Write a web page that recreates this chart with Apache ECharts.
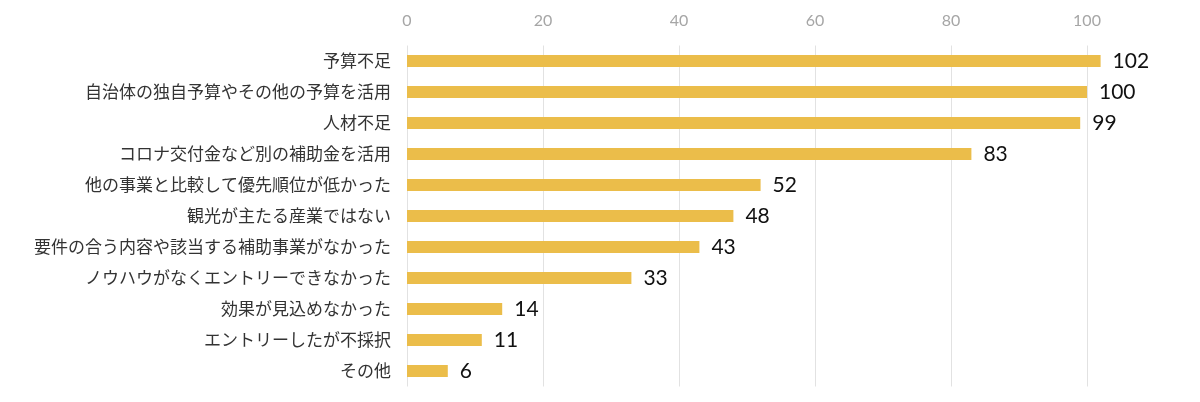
<!DOCTYPE html>
<html><head><meta charset="utf-8">
<script src="https://cdn.jsdelivr.net/npm/echarts@6/dist/echarts.min.js"></script>
<style>html,body{margin:0;padding:0;background:#fff}#c{width:1200px;height:402px}</style>
</head><body><div id="c"></div>
<script>
const categories = ["予算不足","自治体の独自予算やその他の予算を活用","人材不足","コロナ交付金など別の補助金を活用","他の事業と比較して優先順位が低かった","観光が主たる産業ではない","要件の合う内容や該当する補助事業がなかった","ノウハウがなくエントリーできなかった","効果が見込めなかった","エントリーしたが不採択","その他"];
const values = [102,100,99,83,52,48,43,33,14,11,6];
const chart = echarts.init(document.getElementById('c'));
chart.setOption({
  animation:false,
  grid:{left:407,right:99.4,top:45.5,bottom:15.5,containLabel:false},
  xAxis:{type:'value',position:'top',min:0,max:102,interval:20,
    axisLine:{show:false},axisTick:{show:false},
    axisLabel:{color:'#a6a6a6',fontSize:16,fontFamily:'Lato, "Noto Sans", sans-serif',margin:17,showMaxLabel:false},
    splitLine:{showMaxLine:false,lineStyle:{color:'#e2e2e2',width:1}}},
  yAxis:{type:'category',inverse:true,data:categories,
    axisLine:{show:false},axisTick:{show:false},
    axisLabel:{color:'#333',fontSize:17,margin:16,fontFamily:'"Noto Sans CJK JP", sans-serif'}},
  series:[{type:'bar',data:values,barWidth:12,
    itemStyle:{color:'#EBBD4A'},
    label:{show:true,position:'right',distance:12,color:'#111',fontSize:21,fontFamily:'Lato, "Noto Sans", sans-serif'}}]
});
</script></body></html>
